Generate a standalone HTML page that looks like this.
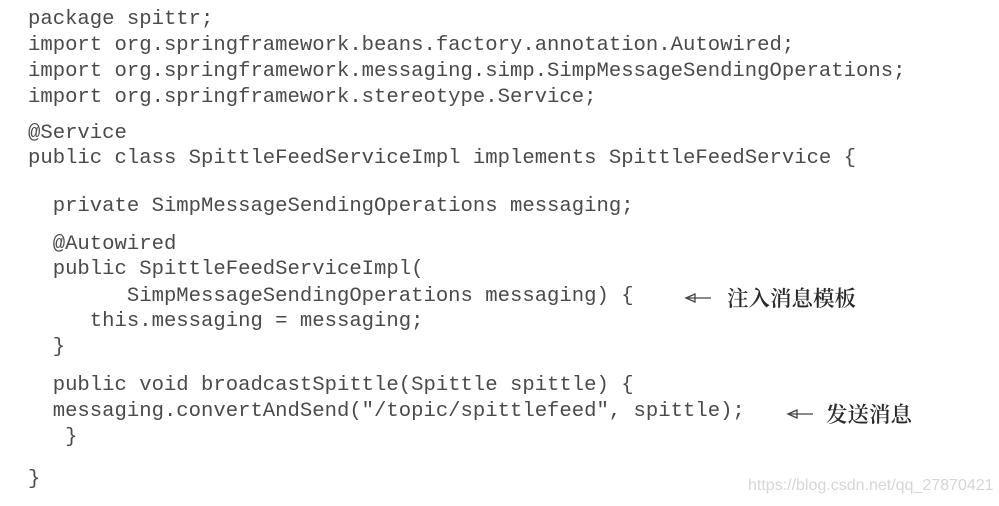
<!DOCTYPE html>
<html><head><meta charset="utf-8"><style>
body{margin:0;width:999px;height:506px;background:#fff;position:relative;overflow:hidden}
.l{position:absolute;left:28px;font-family:"Liberation Mono",monospace;font-size:20.6px;color:#4a4a4a;white-space:pre;line-height:26px}
.c{position:absolute;font-family:"Noto Serif CJK SC","Liberation Serif",serif;font-weight:600;font-size:21.5px;color:#2a2a2a;line-height:26px;white-space:pre}
.w{position:absolute;left:748px;top:477px;font-family:"Liberation Sans",sans-serif;font-size:16px;color:#d6d6d6}
</style></head><body>
<div class="l" style="top:7px">package spittr;</div>
<div class="l" style="top:33px">import org.springframework.beans.factory.annotation.Autowired;</div>
<div class="l" style="top:59px">import org.springframework.messaging.simp.SimpMessageSendingOperations;</div>
<div class="l" style="top:85px">import org.springframework.stereotype.Service;</div>
<div class="l" style="top:121px">@Service</div>
<div class="l" style="top:146px">public class SpittleFeedServiceImpl implements SpittleFeedService {</div>
<div class="l" style="top:194px">  private SimpMessageSendingOperations messaging;</div>
<div class="l" style="top:232px">  @Autowired</div>
<div class="l" style="top:257px">  public SpittleFeedServiceImpl(</div>
<div class="l" style="top:284px">        SimpMessageSendingOperations messaging) {</div>
<div class="l" style="top:309px">     this.messaging = messaging;</div>
<div class="l" style="top:335px">  }</div>
<div class="l" style="top:373px">  public void broadcastSpittle(Spittle spittle) {</div>
<div class="l" style="top:399px">  messaging.convertAndSend("/topic/spittlefeed", spittle);</div>
<div class="l" style="top:425px">   }</div>
<div class="l" style="top:467px">}</div>
<svg style="position:absolute;left:0;top:0" width="999" height="506">
<g stroke="#444" stroke-width="1.3" fill="none">
<path d="M686 298 L711 298 M686 298 L695 294 L695 302 Z"/>
<path d="M788 414 L813 414 M788 414 L797 410 L797 418 Z"/>
</g></svg>
<div class="c" style="left:727px;top:285px">注入消息模板</div>
<div class="c" style="left:826px;top:401px">发送消息</div>
<div class="w">https://blog.csdn.net/qq_27870421</div>
</body></html>
